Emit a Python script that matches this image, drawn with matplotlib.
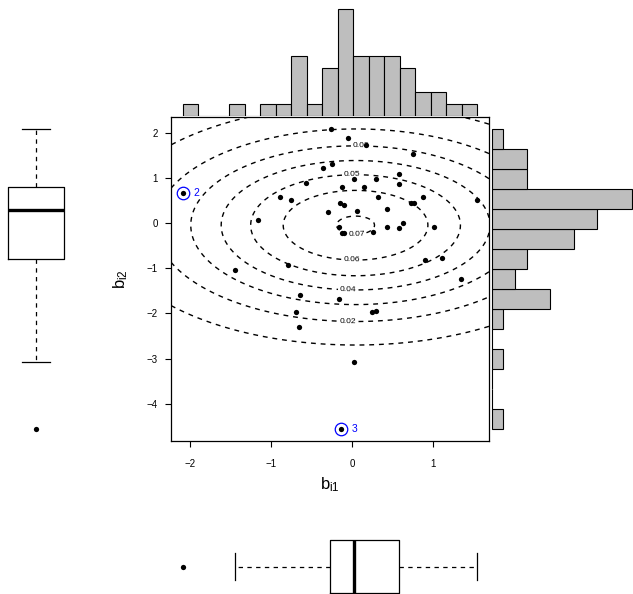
import numpy as np
import matplotlib
matplotlib.use('Agg')
import matplotlib.pyplot as plt

plt.rcParams['font.family'] = ['Liberation Sans', 'DejaVu Sans']
plt.rcParams['mathtext.default'] = 'regular'
plt.rcParams['lines.dashed_pattern'] = (3.5, 3.5)

# random effect estimates
b_i1 = np.array([-2.09, -1.45, -1.16, -0.89, -0.79, -0.75, -0.69, -0.66, -0.64, -0.57,
                 -0.36, -0.30, -0.26, -0.25, -0.16, -0.15, -0.14, -0.13, -0.13, -0.10,
                 -0.10, -0.16, -0.05, 0.02, 0.02, 0.06, 0.15, 0.17, 0.24, 0.25,
                 0.29, 0.29, 0.32, 0.43, 0.43, 0.57, 0.57, 0.58, 0.62, 0.72,
                 0.75, 0.76, 0.87, 0.90, 1.01, 1.10, 1.34, 1.54])
b_i2 = np.array([0.67, -1.04, 0.07, 0.57, -0.94, 0.51, -1.98, -2.31, -1.59, 0.89,
                 1.21, 0.25, 2.08, 1.31, -0.10, 0.44, -4.56, 0.80, -0.22, 0.40,
                 -0.23, -1.68, 1.88, 0.98, -3.08, 0.27, 0.80, 1.72, -1.96, -0.19,
                 0.98, -1.94, 0.58, 0.32, -0.10, 0.86, -0.12, 1.08, 0.01, 0.44,
                 1.53, 0.45, 0.58, -0.83, -0.10, -0.77, -1.23, 0.51])
flagged = [0, 16]
flag_labels = ['2', '3']

# histogram breaks (R pretty breaks)
x_breaks = np.round(np.arange(-2.2, 1.61, 0.2), 2)
y_breaks = np.round(np.arange(-5.0, 2.51, 0.5), 2)

# density contours
dens_levels = [0.01, 0.02, 0.03, 0.04, 0.05, 0.06, 0.07]
dens_peak = 0.0708
dens_center = (0.04, -0.05)
dens_sd = (1.55, 1.34)
label_spots = [(0.05, -0.22), (0.0, -0.80), (0.0, 1.03), (-0.05, -1.48),
               (0.11, 1.71), (-0.05, -2.20)]

W, H = 633, 594
fig = plt.figure(figsize=(W / 100, H / 100), dpi=100)


def px_axes(x0, y0, x1, y1):
    return fig.add_axes([x0 / W, 1 - y1 / H, (x1 - x0) / W, (y1 - y0) / H])


def r_lim(v):
    r = v.max() - v.min()
    return v.min() - 0.04 * r, v.max() + 0.04 * r


def r_hist(v, br):
    idx = np.clip(np.searchsorted(br, v, side='left') - 1, 0, len(br) - 2)
    return np.bincount(idx, minlength=len(br) - 1)


def box_stats(v):
    v = np.sort(v)
    n = len(v)
    n4 = np.floor((n + 3) / 2) / 2
    d = np.array([1, n4, (n + 1) / 2, n + 1 - n4, n]) - 1
    fn = 0.5 * (v[np.floor(d).astype(int)] + v[np.ceil(d).astype(int)])
    iqr = fn[3] - fn[1]
    lo = v[v >= fn[1] - 1.5 * iqr].min()
    hi = v[v <= fn[3] + 1.5 * iqr].max()
    return [dict(med=fn[2], q1=fn[1], q3=fn[3], whislo=lo, whishi=hi,
                 fliers=v[(v < lo) | (v > hi)])]


xlim = r_lim(b_i1)
ylim = r_lim(b_i2)

# main scatter
ax = px_axes(171, 117, 489, 441)
gx, gy = np.meshgrid(np.linspace(xlim[0], xlim[1], 400), np.linspace(ylim[0], ylim[1], 400))
z = dens_peak * np.exp(-0.5 * (((gx - dens_center[0]) / dens_sd[0]) ** 2
                               + ((gy - dens_center[1]) / dens_sd[1]) ** 2))
cs = ax.contour(gx, gy, z, levels=dens_levels, colors='black', linewidths=1.0,
                linestyles='dashed')
ax.clabel(cs, fmt='%.2f', fontsize=6, manual=label_spots, inline=True, inline_spacing=2)
ax.plot(b_i1, b_i2, 'o', color='black', ms=3.8, mew=0, zorder=3)
for i, lab in zip(flagged, flag_labels):
    ax.plot(b_i1[i], b_i2[i], 'o', mfc='none', mec='blue', ms=9, mew=0.9, zorder=3)
    ax.annotate(lab, (b_i1[i], b_i2[i]), xytext=(8, 0), textcoords='offset points',
                color='blue', fontsize=7.5, va='center', ha='left')
ax.set_xlim(xlim)
ax.set_ylim(ylim)
ax.set_xticks([-2, -1, 0, 1])
ax.set_yticks(range(-4, 3))
ax.tick_params(direction='out', length=4.3, width=0.8, labelsize=7)
ax.tick_params(axis='x', pad=9)
ax.tick_params(axis='y', pad=5)
for s in ax.spines.values():
    s.set_linewidth(0.9)
ax.set_xlabel(r'$b_{i1}$', fontsize=12, labelpad=4)
ax.set_ylabel(r'$b_{i2}$', fontsize=12, labelpad=12)

# top histogram
hx = r_hist(b_i1, x_breaks)
top = px_axes(171, 4.3, 489, 115.7)
top.bar(np.arange(len(hx)), hx, width=1, align='edge', color='#BEBEBE',
        edgecolor='black', linewidth=0.8)
top.set_xlim(-0.04 * len(hx), 1.04 * len(hx))
top.set_ylim(0, hx.max() * 1.04)
top.axis('off')

# right histogram
hy = r_hist(b_i2, y_breaks)
right = px_axes(491.7, 117, 632.3, 441)
right.barh(np.arange(len(hy)), hy, height=1, align='edge', color='#BEBEBE',
           edgecolor='black', linewidth=0.8, clip_on=False)
right.set_ylim(-0.04 * len(hy), 1.04 * len(hy))
right.set_xlim(0, hy.max())
right.axis('off')

boxkw = dict(widths=0.8, capwidths=0.4, showfliers=True,
             boxprops=dict(color='black', linewidth=0.9),
             whiskerprops=dict(color='black', linewidth=0.9, linestyle='dashed'),
             capprops=dict(color='black', linewidth=0.9),
             medianprops=dict(color='black', linewidth=2.4),
             flierprops=dict(marker='o', ms=3.8, mfc='black', mec='none'))

# left boxplot of b_i2
lb = px_axes(0, 117, 72, 441)
lb.bxp(box_stats(b_i2), positions=[1], orientation='vertical', **boxkw)
lb.set_ylim(ylim)
lb.set_xlim(1 - 36 / 69.6, 1 + 36 / 69.6)
lb.axis('off')

# bottom boxplot of b_i1
bb = px_axes(171, 539, 489, 594)
bb.bxp(box_stats(b_i1), positions=[1], orientation='horizontal', **boxkw)
bb.set_xlim(xlim)
bb.set_ylim(1 - 27.5 / 65.4, 1 + 27.5 / 65.4)
bb.axis('off')

fig.savefig('out.png', dpi=100)
